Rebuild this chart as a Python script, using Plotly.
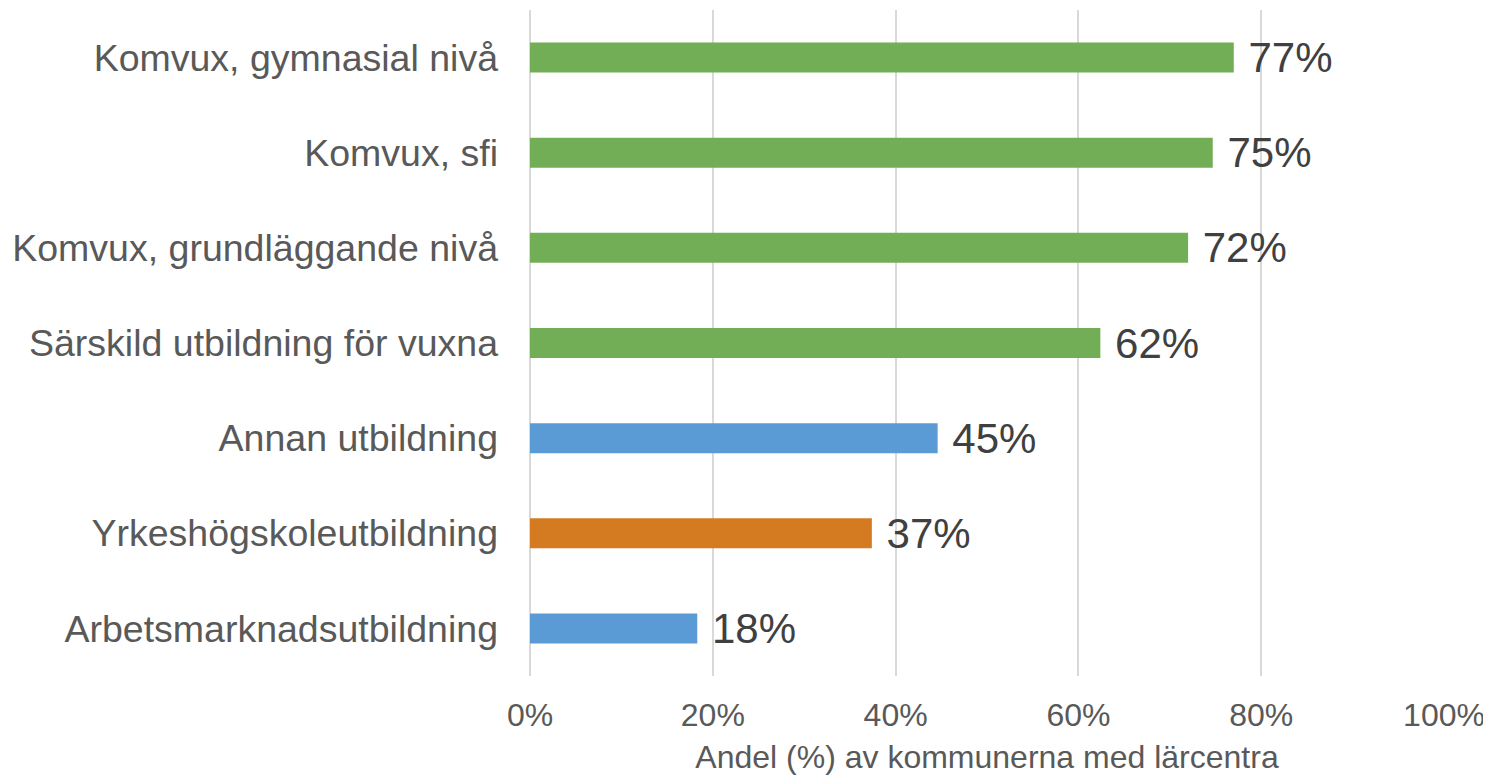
import plotly.graph_objects as go

# Data (share of municipalities with learning centres)
categories = [
    "Komvux, gymnasial nivå",
    "Komvux, sfi",
    "Komvux, grundläggande nivå",
    "Särskild utbildning för vuxna",
    "Annan utbildning",
    "Yrkeshögskoleutbildning",
    "Arbetsmarknadsutbildning",
]
shares = [0.770, 0.747, 0.720, 0.624, 0.446, 0.374, 0.183]
bar_colors = ["#71AE55", "#71AE55", "#71AE55", "#71AE55", "#5B9BD5", "#D47A20", "#5B9BD5"]
x_ticks = [0, 0.2, 0.4, 0.6, 0.8, 1.0]
x_title = "Andel (%) av kommunerna med lärcentra"

FONT = "Liberation Sans, Arial, sans-serif"
GRID = "#D9D9D9"

fig = go.Figure()
fig.add_trace(go.Bar(
    x=shares,
    y=categories,
    orientation="h",
    marker=dict(color=bar_colors, line=dict(width=0)),
    texttemplate="\u00a0%{x:.0%}",
    textposition="outside",
    constraintext="none",
    cliponaxis=False,
    textfont=dict(size=42, color="#404040", family=FONT),
    hoverinfo="skip",
))

# page body has an 8px margin, so the figure is a bit smaller than the window
fig.update_layout(
    width=1483,
    height=769,
    margin=dict(l=522, r=47, t=1.5, b=101, autoexpand=False),
    plot_bgcolor="white",
    paper_bgcolor="white",
    bargap=0.685,
    showlegend=False,
    font=dict(family=FONT, color="#595959"),
)

fig.update_xaxes(
    range=[0, 1],
    tickvals=x_ticks,
    tickformat=".0%",
    tickfont=dict(size=32, color="#595959"),
    ticklabelstandoff=17,
    showgrid=True,
    gridcolor=GRID,
    gridwidth=1.5,
    zeroline=True,
    zerolinecolor=GRID,
    zerolinewidth=1.5,
    showline=False,
    automargin=False,
    title=dict(text=x_title, font=dict(size=32, color="#595959"), standoff=13),
)

fig.update_yaxes(
    autorange="reversed",
    tickfont=dict(size=37.5, color="#595959"),
    ticklabelstandoff=31,
    showgrid=False,
    showline=False,
    zeroline=False,
    automargin=False,
)

fig.write_html("out.html")
